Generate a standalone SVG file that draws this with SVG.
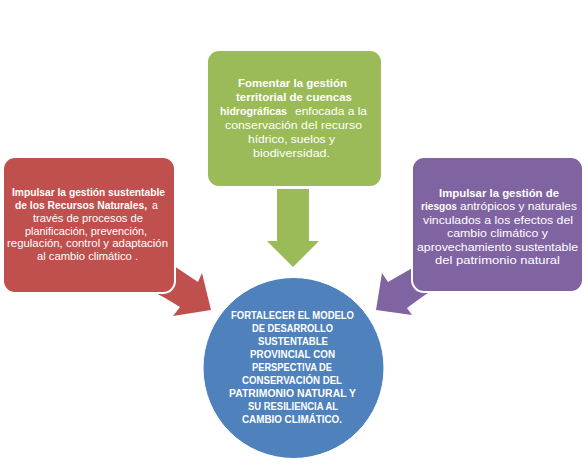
<svg xmlns="http://www.w3.org/2000/svg" width="588" height="473" viewBox="0 0 588 473">
<style>
text{font-family:"Liberation Sans",Arial,sans-serif;font-size:10.5px;fill:#fff;}
.b{font-weight:bold;}
.box{stroke:#fff;stroke-width:2;}
</style>
<rect width="588" height="473" fill="#fff"/>
<g id="connectors">
<path id="arrow-red" fill="#C0504D" d="M150,250 L198,282 L202,273 L211,310 L173,316 L180,307 L165,298 L150,290 Z"/>
<path id="arrow-green" fill="#9BBB59" d="M277,189 L309,189 L309,241 L319,241 L293,267 L267,241 L277,241 Z"/>
<path id="arrow-purple" fill="#8064A2" d="M440,252 L388,282 L382,273 L376,310 L412,315 L407,308 L422,297 L440,285 Z"/>
</g>
<g id="node-red">
<rect class="box" x="3" y="157" width="172" height="136" rx="12" fill="#C0504D"/>
<text class="b" x="12" y="196" textLength="153" lengthAdjust="spacingAndGlyphs">Impulsar la gestión sustentable</text>
<text class="b" x="15" y="208.5" textLength="132" lengthAdjust="spacingAndGlyphs">de los Recursos Naturales,</text>
<text x="152" y="208.5">a</text>
<text x="33" y="221.5" textLength="110" lengthAdjust="spacingAndGlyphs">través de procesos de</text>
<text x="25" y="234.5" textLength="122" lengthAdjust="spacingAndGlyphs">planificación, prevención,</text>
<text x="7" y="247" textLength="161" lengthAdjust="spacingAndGlyphs">regulación, control y adaptación</text>
<text x="37" y="260" textLength="101" lengthAdjust="spacingAndGlyphs">al cambio climático .</text>
</g>
<g id="node-green">
<rect class="box" x="207" y="50" width="175" height="137" rx="12" fill="#9BBB59"/>
<text class="b" x="238" y="86.7" textLength="109" lengthAdjust="spacingAndGlyphs">Fomentar la gestión</text>
<text class="b" x="236" y="100.8" textLength="116" lengthAdjust="spacingAndGlyphs">territorial de cuencas</text>
<text class="b" x="220" y="115" textLength="67" lengthAdjust="spacingAndGlyphs">hidrográficas</text>
<text x="295" y="115" textLength="72" lengthAdjust="spacingAndGlyphs">enfocada a la</text>
<text x="225" y="129" textLength="137" lengthAdjust="spacingAndGlyphs">conservación del recurso</text>
<text x="248" y="143" textLength="87" lengthAdjust="spacingAndGlyphs">hídrico, suelos y</text>
<text x="253" y="157" textLength="77" lengthAdjust="spacingAndGlyphs">biodiversidad.</text>
</g>
<g id="node-purple">
<rect class="box" x="412" y="157" width="171" height="135" rx="12" fill="#8064A2"/>
<text class="b" x="439" y="196.7" textLength="120" lengthAdjust="spacingAndGlyphs">Impulsar la gestión de</text>
<text class="b" x="421" y="210.2" textLength="36" lengthAdjust="spacingAndGlyphs">riesgos</text>
<text x="460" y="210.2" textLength="117" lengthAdjust="spacingAndGlyphs">antrópicos y naturales</text>
<text x="423" y="223.7" textLength="150" lengthAdjust="spacingAndGlyphs">vinculados a los efectos del</text>
<text x="447" y="237.2" textLength="101" lengthAdjust="spacingAndGlyphs">cambio climático  y</text>
<text x="417" y="250.7" textLength="161" lengthAdjust="spacingAndGlyphs">aprovechamiento sustentable</text>
<text x="435" y="264.2" textLength="125" lengthAdjust="spacingAndGlyphs">del patrimonio natural</text>
</g>
<g id="node-blue">
<circle cx="293.5" cy="368" r="90.5" fill="#4F81BD" stroke="#fff" stroke-width="1"/>
<text class="b" x="231" y="318.5" textLength="123" lengthAdjust="spacingAndGlyphs">FORTALECER EL MODELO</text>
<text class="b" x="252" y="331.5" textLength="81" lengthAdjust="spacingAndGlyphs">DE DESARROLLO</text>
<text class="b" x="258" y="344.5" textLength="70" lengthAdjust="spacingAndGlyphs">SUSTENTABLE</text>
<text class="b" x="250" y="357.5" textLength="85" lengthAdjust="spacingAndGlyphs">PROVINCIAL CON</text>
<text class="b" x="252" y="370.5" textLength="80" lengthAdjust="spacingAndGlyphs">PERSPECTIVA DE</text>
<text class="b" x="242" y="383.5" textLength="100" lengthAdjust="spacingAndGlyphs">CONSERVACIÓN DEL</text>
<text class="b" x="229" y="396.5" textLength="127" lengthAdjust="spacingAndGlyphs">PATRIMONIO NATURAL Y</text>
<text class="b" x="248" y="409.5" textLength="90" lengthAdjust="spacingAndGlyphs">SU RESILIENCIA AL</text>
<text class="b" x="242" y="422.5" textLength="100" lengthAdjust="spacingAndGlyphs">CAMBIO CLIMÁTICO.</text>
</g>
</svg>
